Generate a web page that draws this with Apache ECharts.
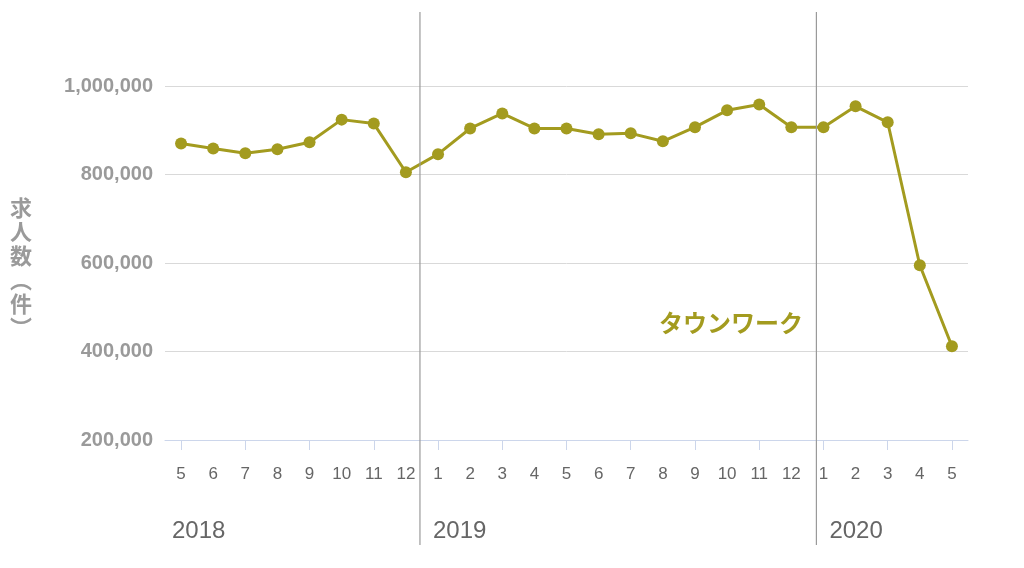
<!DOCTYPE html>
<html><head><meta charset="utf-8">
<script src="https://cdn.jsdelivr.net/npm/echarts@6/dist/echarts.min.js"></script>
<style>html,body{margin:0;padding:0;background:#fff}#c{width:1024px;height:568px}</style>
</head><body><div id="c"></div>
<script>
const months = ['5','6','7','8','9','10','11','12','1','2','3','4','5','6','7','8','9','10','11','12','1','2','3','4','5'];
const years = ['2018','2019','2020'];
const yearStartIndex = [0, 8, 20];
const townwork = [870000,859000,848000,857000,873000,924000,915000,805000,846000,904000,938000,904000,904000,891000,893000,875000,907000,945000,958000,907000,907000,954000,918000,595000,412000];
const seriesName = 'タウンワーク';
const yTicks = [200000, 1000000, 200000]; // min, max, interval
const yName = '求\n人\n数\n︵\n件\n︶';

const color = '#a39b1f';
const chart = echarts.init(document.getElementById('c'));
chart.setOption({
  animation: false,
  grid: {left: 165, right: 56, top: 86, bottom: 128},
  xAxis: {
    type: 'category', data: months, boundaryGap: true,
    axisLine: {show: true, lineStyle: {color: '#ccd6eb'}},
    axisTick: {show: true, alignWithLabel: true, interval: 1, length: 10, lineStyle: {color: '#ccd6eb'}},
    axisLabel: {interval: 0, color: '#666', fontSize: 17, margin: 26, fontFamily: 'Liberation Sans, Noto Sans CJK JP'}
  },
  yAxis: {
    type: 'value', min: yTicks[0], max: yTicks[1], interval: yTicks[2],
    axisLine: {show: false}, axisTick: {show: false},
    splitLine: {lineStyle: {color: '#d9d9d9', width: 1}},
    axisLabel: {color: '#9a9a9a', fontSize: 20, fontWeight: 'bold', margin: 12, fontFamily: 'Liberation Sans, Noto Sans CJK JP',
      formatter: v => v.toLocaleString('en-US')}
  },
  series: [{
    name: seriesName, type: 'line', data: townwork,
    symbol: 'circle', symbolSize: 12,
    lineStyle: {color: color, width: 3}, itemStyle: {color: color}
  }]
});

function addGraphics() {
  const p0 = chart.convertToPixel({xAxisIndex: 0}, 0);
  const p1 = chart.convertToPixel({xAxisIndex: 0}, 1);
  const band = p1 - p0;
  const sepOffset = [7, -2, 9];
  const els = [];
  yearStartIndex.forEach((idx, i) => {
    const left = chart.convertToPixel({xAxisIndex: 0}, idx) - band / 2 + sepOffset[i];
    if (i > 0) {
      els.push({type: 'line', shape: {x1: left, y1: 12, x2: left, y2: 545},
        style: {stroke: '#9a9a9a', lineWidth: 1.2}, z: 10});
    }
    els.push({type: 'text', left: left + (i === 0 ? 0 : 13), top: 519,
      style: {text: years[i], fill: '#666', font: '24px "Liberation Sans", sans-serif'}});
  });
  els.push({type: 'text', left: 10, top: 196,
    style: {text: yName, fill: '#9a9a9a', font: 'bold 22px "Noto Sans CJK JP"', lineHeight: 24, align: 'center'}});
  els.push({type: 'text', left: 659, top: 311,
    style: {text: seriesName, fill: color, font: 'bold 24px "Noto Sans CJK JP"'}});
  chart.setOption({graphic: els});
}
addGraphics();
</script>
</body></html>
